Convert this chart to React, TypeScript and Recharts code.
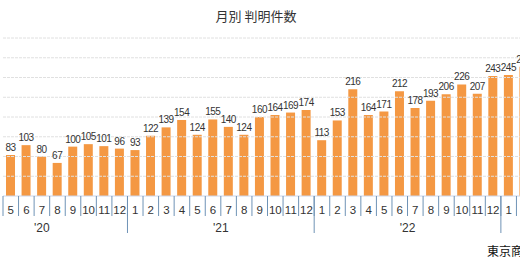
import React from "react";
import { BarChart, Bar, XAxis, YAxis, ReferenceLine, LabelList } from "recharts";

// months shown (the full chart starts earlier / ends later; the view is cropped)
const periods = [
  "2020-05", "2020-06", "2020-07", "2020-08", "2020-09", "2020-10", "2020-11", "2020-12",
  "2021-01", "2021-02", "2021-03", "2021-04", "2021-05", "2021-06", "2021-07", "2021-08",
  "2021-09", "2021-10", "2021-11", "2021-12",
  "2022-01", "2022-02", "2022-03", "2022-04", "2022-05", "2022-06", "2022-07", "2022-08",
  "2022-09", "2022-10", "2022-11", "2022-12",
  "2023-01", "2023-02"
];

const counts2020 = [83, 103, 80, 67, 100, 105, 101, 96];
const counts2021 = [93, 122, 139, 154, 124, 155, 140, 124, 160, 164, 169, 174];
const counts2022 = [113, 153, 216, 164, 171, 212, 178, 193, 206, 226, 207, 243];
const counts2023 = [245, 262];

const yTicks = [40, 80, 120, 160, 200, 240, 280, 320];

// year groups on the lower axis (2020 begins in Feb in the full chart)
const yearLabels = [
  { label: "'20", first: "2020-02", last: "2020-12" },
  { label: "'21", first: "2021-01", last: "2021-12" },
  { label: "'22", first: "2022-01", last: "2022-12" },
  { label: "'23", first: "2023-01", last: "2023-12" }
];

const counts = [...counts2020, ...counts2021, ...counts2022, ...counts2023];
const data = periods.map((p, i) => ({ period: p, count: counts[i] }));

const monthIndex = (p: string) => {
  const [y, m] = p.split("-").map(Number);
  const [y0, m0] = periods[0].split("-").map(Number);
  return (y - y0) * 12 + (m - m0);
};

const AXIS = "#6f93b6";
const FONT = "'Liberation Sans', Arial, sans-serif";

const MonthTick = (props: any) => {
  const { x, y, payload } = props;
  const half = payload.offset || 7.8;
  const month = Number(String(payload.value).split("-")[1]);
  return (
    <g>
      <line x1={x - half} x2={x - half} y1={y} y2={y + 20} stroke={AXIS} strokeWidth={1} />
      <text x={x} y={y + 18} textAnchor="middle" fontSize={11.5} fill="#333" fontFamily={FONT}>
        {month}
      </text>
    </g>
  );
};

const YearTick = (props: any) => {
  const { x, y, payload } = props;
  const half = payload.offset || 7.8;
  const i = periods.indexOf(payload.value);
  const month = Number(String(payload.value).split("-")[1]);
  const yl = yearLabels.find(l => {
    const c = (monthIndex(l.first) + monthIndex(l.last) + 1) / 2;
    return c >= i && c < i + 1;
  });
  let labelX = x;
  if (yl) {
    const c = (monthIndex(yl.first) + monthIndex(yl.last) + 1) / 2;
    labelX = x + (c - i - 0.5) * 2 * half;
  }
  return (
    <g>
      {month === 1 && (
        <line x1={x - half} x2={x - half} y1={y - 20} y2={y + 17} stroke={AXIS} strokeWidth={1} />
      )}
      {yl && (
        <text x={labelX} y={y + 16} textAnchor="middle" fontSize={12} fill="#333" fontFamily={FONT}>
          {yl.label}
        </text>
      )}
    </g>
  );
};

export default function App() {
  return (
    <div
      style={{
        position: "fixed",
        left: 0,
        top: 0,
        width: 520,
        height: 262,
        overflow: "hidden",
        background: "#fff"
      }}
    >
      <div
        style={{
          position: "absolute",
          left: 0,
          top: 6,
          width: 512,
          textAlign: "center",
          fontSize: 13,
          color: "#333",
          fontFamily: "'Noto Sans CJK JP', sans-serif"
        }}
      >
        月別 判明件数
      </div>
      <BarChart
        width={532}
        height={262}
        data={data}
        margin={{ top: 38, right: 0, bottom: 0, left: 3 }}
        barCategoryGap={0}
      >
        <YAxis
          domain={[0, 320]}
          ticks={[0, ...yTicks]}
          width={0}
          tick={false}
          axisLine={false}
          tickLine={false}
        />
        {yTicks.map(v => (
          <ReferenceLine key={v} y={v} stroke="#e0e0e0" strokeDasharray="3 1" ifOverflow="extendDomain" />
        ))}
        <XAxis
          dataKey="period"
          interval={0}
          height={20}
          tickSize={0}
          tickMargin={0}
          tickLine={false}
          axisLine={{ stroke: "#ccd6eb" }}
          tick={<MonthTick />}
        />
        <XAxis
          xAxisId="year"
          dataKey="period"
          interval={0}
          height={46}
          tickSize={0}
          tickMargin={0}
          tickLine={false}
          axisLine={false}
          tick={<YearTick />}
        />
        <Bar dataKey="count" fill="#f49843" barSize={9} isAnimationActive={false}>
          <LabelList
            dataKey="count"
            position="top"
            offset={4}
            fontSize={10}
            letterSpacing={-0.5}
            fill="#333"
            fontFamily={FONT}
          />
        </Bar>
      </BarChart>
      <div
        style={{
          position: "absolute",
          left: 487,
          top: 242,
          whiteSpace: "nowrap",
          fontSize: 12,
          color: "#111",
          fontFamily: "'Noto Sans CJK JP', sans-serif"
        }}
      >
        東京商工リサーチ調べ
      </div>
    </div>
  );
}
